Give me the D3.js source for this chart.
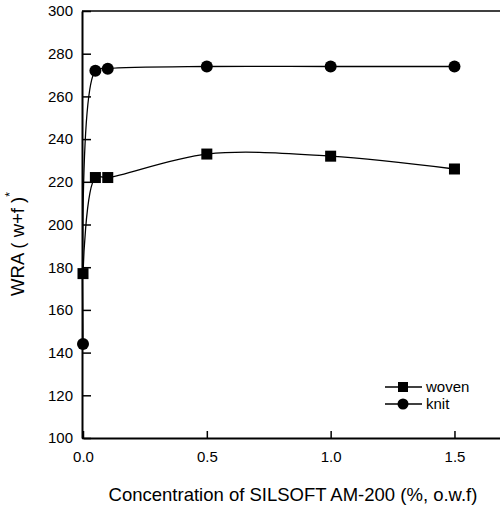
<!DOCTYPE html>
<html>
<head>
<meta charset="utf-8">
<script src="https://cdn.jsdelivr.net/npm/d3@7"></script>
<style>
  html, body { margin: 0; padding: 0; background: #fff; }
  svg { display: block; font-family: "Liberation Sans", Arial, Helvetica, sans-serif; }
</style>
</head>
<body>
<svg id="chart" width="500" height="508"></svg>
<script>
// ---- data ----
const concentrations = [0, 0.05, 0.1, 0.5, 1.0, 1.5];
const wovenValues = [177, 222, 222, 233, 232, 226];
const knitValues = [144, 272, 273, 274, 274, 274];
const xTickValues = [0, 0.5, 1.0, 1.5];
const yTickValues = [100, 120, 140, 160, 180, 200, 220, 240, 260, 280, 300];
const seriesNames = ["woven", "knit"];

// ---- layout ----
const svg = d3.select("#chart");
const plotLeft = 82, plotRight = 504, plotTop = 11, plotBottom = 438;

const x = d3.scaleLinear().domain([0, 1.7]).range([plotLeft + 1, plotRight]);
const y = d3.scaleLinear().domain([100, 300]).range([plotBottom, plotTop]);

// frame (top border)
svg.append("line")
  .attr("x1", plotLeft).attr("x2", plotRight)
  .attr("y1", plotTop).attr("y2", plotTop)
  .attr("stroke", "#000").attr("stroke-width", 1.5);

// y axis (ticks inward)
const yAxis = svg.append("g")
  .attr("transform", `translate(${plotLeft},0)`)
  .call(d3.axisLeft(y).tickValues(yTickValues).tickFormat(d3.format("d")).tickSizeInner(-9).tickSizeOuter(0).tickPadding(9));
yAxis.select(".domain").attr("stroke-width", 2);
yAxis.selectAll(".tick line").attr("stroke-width", 1.5);
yAxis.selectAll("text").attr("font-size", 15).attr("fill", "#000").attr("font-family", "Liberation Sans, Arial, sans-serif");

// x axis (ticks inward)
const xAxis = svg.append("g")
  .attr("transform", `translate(0,${plotBottom})`)
  .call(d3.axisBottom(x).tickValues(xTickValues).tickFormat(d3.format(".1f")).tickSizeInner(-7).tickSizeOuter(0).tickPadding(13));
xAxis.select(".domain").attr("stroke-width", 2);
xAxis.selectAll(".tick line").attr("stroke-width", 1.5);
xAxis.selectAll("text").attr("font-size", 15).attr("fill", "#000").attr("font-family", "Liberation Sans, Arial, sans-serif");

// axis titles
svg.append("text")
  .attr("x", 293).attr("y", 501)
  .attr("text-anchor", "middle")
  .attr("font-size", 18.5)
  .text("Concentration of SILSOFT AM-200 (%, o.w.f)");

const yt = svg.append("text")
  .attr("transform", "translate(24,244) rotate(-90)")
  .attr("text-anchor", "middle")
  .attr("font-size", 18.5);
yt.append("tspan").text("WRA ( w+f )");
yt.append("tspan").attr("dy", -10).attr("font-size", 12).text("*");

// series
const line = d3.line()
  .x(d => x(d[0])).y(d => y(d[1]))
  .curve(d3.curveCatmullRom.alpha(0.5));

const woven = concentrations.map((c, i) => [c, wovenValues[i]]);
const knit = concentrations.map((c, i) => [c, knitValues[i]]);

[woven, knit].forEach(s => {
  svg.append("path").attr("d", line(s))
    .attr("fill", "none").attr("stroke", "#000").attr("stroke-width", 1.3);
});

const sq = 11, rad = 6;
svg.selectAll(".woven").data(woven).enter().append("rect")
  .attr("x", d => x(d[0]) - sq / 2).attr("y", d => y(d[1]) - sq / 2)
  .attr("width", sq).attr("height", sq).attr("fill", "#000");
svg.selectAll(".knit").data(knit).enter().append("circle")
  .attr("cx", d => x(d[0])).attr("cy", d => y(d[1])).attr("r", rad).attr("fill", "#000");

// legend
const lg = svg.append("g");
const legendY = [387, 404];
seriesNames.forEach((name, i) => {
  const ly = legendY[i];
  lg.append("line").attr("x1", 385).attr("x2", 422).attr("y1", ly).attr("y2", ly)
    .attr("stroke", "#000").attr("stroke-width", 1.3);
  if (i === 0) {
    lg.append("rect").attr("x", 398).attr("y", ly - 5).attr("width", 10).attr("height", 10).attr("fill", "#000");
  } else {
    lg.append("circle").attr("cx", 403).attr("cy", ly).attr("r", 5.5).attr("fill", "#000");
  }
  lg.append("text").attr("x", 426).attr("y", ly + 5).attr("font-size", 15).text(name);
});
</script>
</body>
</html>
